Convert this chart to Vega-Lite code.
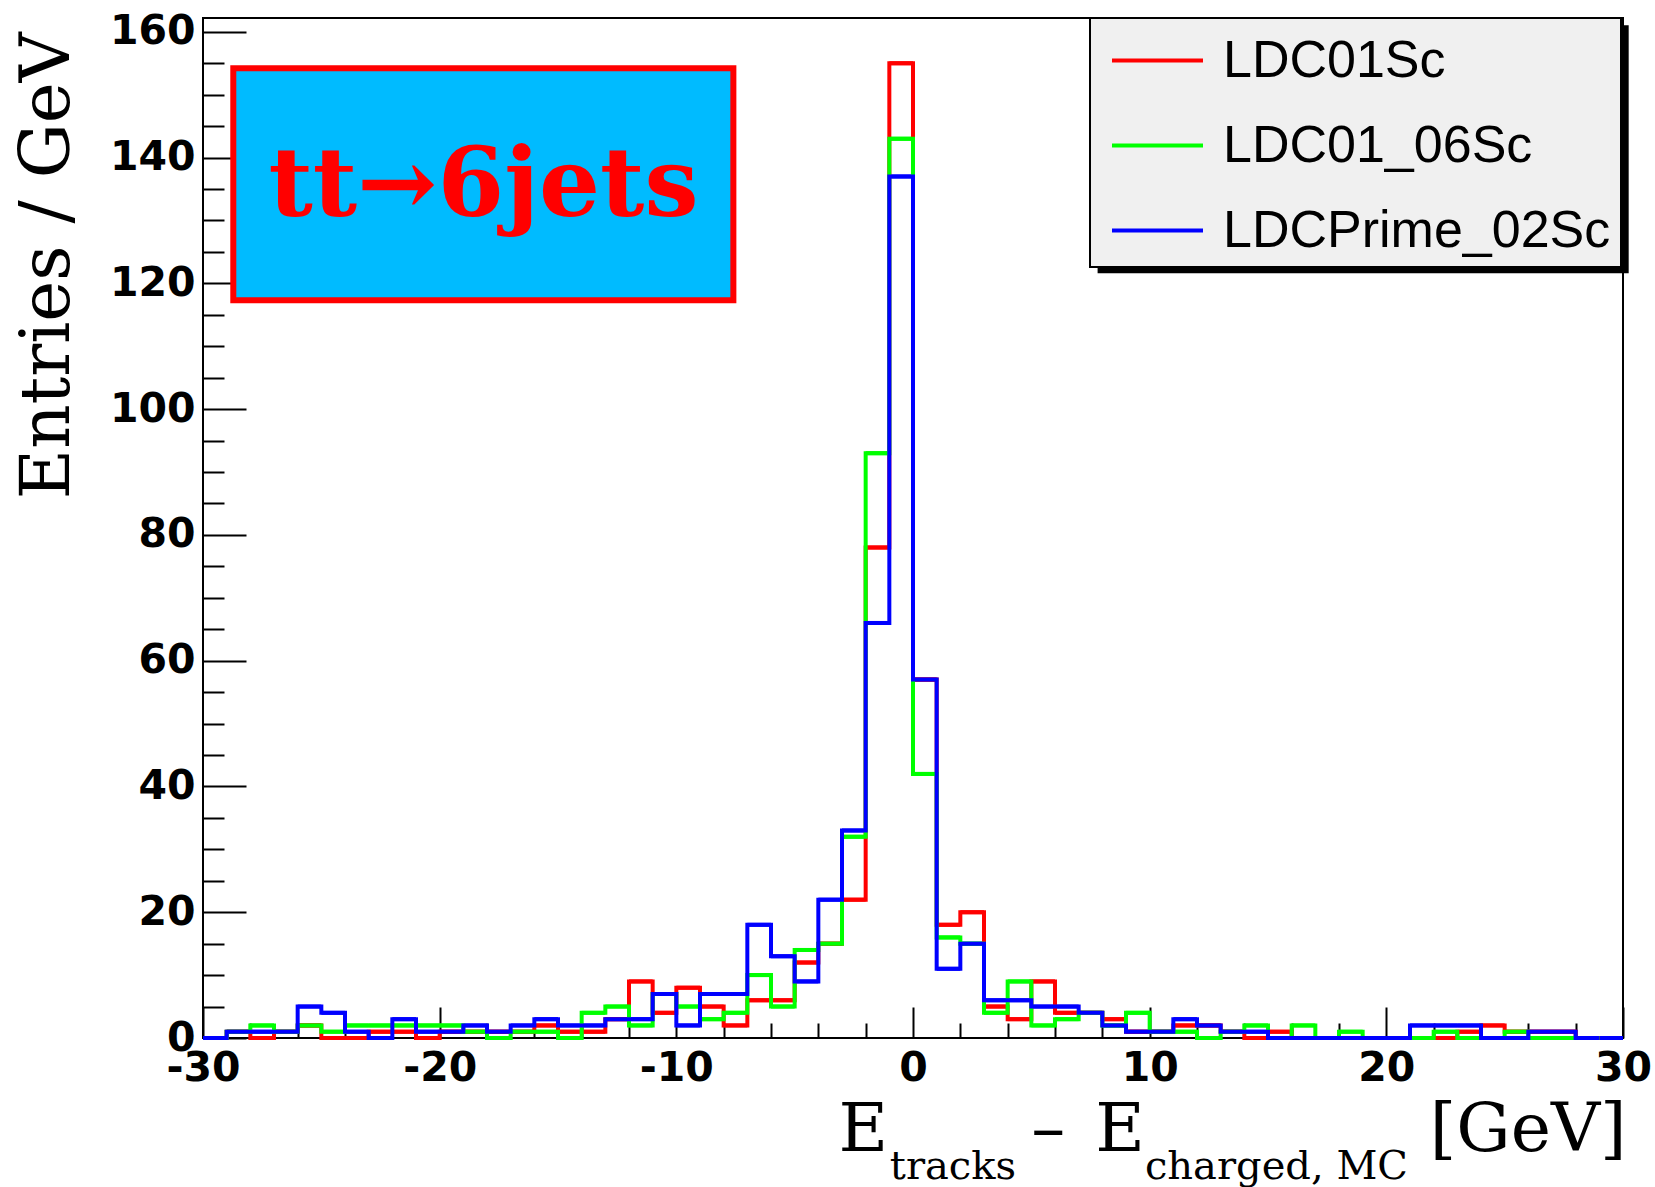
{
"$schema": "https://vega.github.io/schema/vega-lite/v6.json",
"autosize": {"type": "none"},
"width": 1420, "height": 1020,
"padding": {"left": 203, "top": 18, "right": 32, "bottom": 149},
"background": "white",
"config": {"view": {"stroke": "black", "strokeWidth": 2}, "axis": {"grid": false}},
"data": {"values": [
{"s":"LDC01Sc","lo":-30,"hi":-29,"n":0},{"s":"LDC01Sc","lo":-29,"hi":-28,"n":1},{"s":"LDC01Sc","lo":-28,"hi":-27,"n":0},{"s":"LDC01Sc","lo":-27,"hi":-26,"n":1},{"s":"LDC01Sc","lo":-26,"hi":-25,"n":2},{"s":"LDC01Sc","lo":-25,"hi":-24,"n":0},{"s":"LDC01Sc","lo":-24,"hi":-23,"n":0},{"s":"LDC01Sc","lo":-23,"hi":-22,"n":1},{"s":"LDC01Sc","lo":-22,"hi":-21,"n":1},{"s":"LDC01Sc","lo":-21,"hi":-20,"n":0},
{"s":"LDC01Sc","lo":-20,"hi":-19,"n":1},{"s":"LDC01Sc","lo":-19,"hi":-18,"n":1},{"s":"LDC01Sc","lo":-18,"hi":-17,"n":1},{"s":"LDC01Sc","lo":-17,"hi":-16,"n":1},{"s":"LDC01Sc","lo":-16,"hi":-15,"n":2},{"s":"LDC01Sc","lo":-15,"hi":-14,"n":1},{"s":"LDC01Sc","lo":-14,"hi":-13,"n":1},{"s":"LDC01Sc","lo":-13,"hi":-12,"n":3},{"s":"LDC01Sc","lo":-12,"hi":-11,"n":9},{"s":"LDC01Sc","lo":-11,"hi":-10,"n":4},
{"s":"LDC01Sc","lo":-10,"hi":-9,"n":8},{"s":"LDC01Sc","lo":-9,"hi":-8,"n":5},{"s":"LDC01Sc","lo":-8,"hi":-7,"n":2},{"s":"LDC01Sc","lo":-7,"hi":-6,"n":6},{"s":"LDC01Sc","lo":-6,"hi":-5,"n":6},{"s":"LDC01Sc","lo":-5,"hi":-4,"n":12},{"s":"LDC01Sc","lo":-4,"hi":-3,"n":15},{"s":"LDC01Sc","lo":-3,"hi":-2,"n":22},{"s":"LDC01Sc","lo":-2,"hi":-1,"n":78},{"s":"LDC01Sc","lo":-1,"hi":0,"n":155},
{"s":"LDC01Sc","lo":0,"hi":1,"n":57},{"s":"LDC01Sc","lo":1,"hi":2,"n":18},{"s":"LDC01Sc","lo":2,"hi":3,"n":20},{"s":"LDC01Sc","lo":3,"hi":4,"n":5},{"s":"LDC01Sc","lo":4,"hi":5,"n":3},{"s":"LDC01Sc","lo":5,"hi":6,"n":9},{"s":"LDC01Sc","lo":6,"hi":7,"n":4},{"s":"LDC01Sc","lo":7,"hi":8,"n":4},{"s":"LDC01Sc","lo":8,"hi":9,"n":3},{"s":"LDC01Sc","lo":9,"hi":10,"n":1},
{"s":"LDC01Sc","lo":10,"hi":11,"n":1},{"s":"LDC01Sc","lo":11,"hi":12,"n":2},{"s":"LDC01Sc","lo":12,"hi":13,"n":2},{"s":"LDC01Sc","lo":13,"hi":14,"n":1},{"s":"LDC01Sc","lo":14,"hi":15,"n":0},{"s":"LDC01Sc","lo":15,"hi":16,"n":1},{"s":"LDC01Sc","lo":16,"hi":17,"n":0},{"s":"LDC01Sc","lo":17,"hi":18,"n":0},{"s":"LDC01Sc","lo":18,"hi":19,"n":0},{"s":"LDC01Sc","lo":19,"hi":20,"n":0},
{"s":"LDC01Sc","lo":20,"hi":21,"n":0},{"s":"LDC01Sc","lo":21,"hi":22,"n":0},{"s":"LDC01Sc","lo":22,"hi":23,"n":0},{"s":"LDC01Sc","lo":23,"hi":24,"n":1},{"s":"LDC01Sc","lo":24,"hi":25,"n":2},{"s":"LDC01Sc","lo":25,"hi":26,"n":1},{"s":"LDC01Sc","lo":26,"hi":27,"n":1},{"s":"LDC01Sc","lo":27,"hi":28,"n":1},{"s":"LDC01Sc","lo":28,"hi":29,"n":0},{"s":"LDC01Sc","lo":29,"hi":30,"n":0},
{"s":"LDC01_06Sc","lo":-30,"hi":-29,"n":0},{"s":"LDC01_06Sc","lo":-29,"hi":-28,"n":1},{"s":"LDC01_06Sc","lo":-28,"hi":-27,"n":2},{"s":"LDC01_06Sc","lo":-27,"hi":-26,"n":1},{"s":"LDC01_06Sc","lo":-26,"hi":-25,"n":2},{"s":"LDC01_06Sc","lo":-25,"hi":-24,"n":1},{"s":"LDC01_06Sc","lo":-24,"hi":-23,"n":2},{"s":"LDC01_06Sc","lo":-23,"hi":-22,"n":2},{"s":"LDC01_06Sc","lo":-22,"hi":-21,"n":2},{"s":"LDC01_06Sc","lo":-21,"hi":-20,"n":2},
{"s":"LDC01_06Sc","lo":-20,"hi":-19,"n":2},{"s":"LDC01_06Sc","lo":-19,"hi":-18,"n":1},{"s":"LDC01_06Sc","lo":-18,"hi":-17,"n":0},{"s":"LDC01_06Sc","lo":-17,"hi":-16,"n":1},{"s":"LDC01_06Sc","lo":-16,"hi":-15,"n":1},{"s":"LDC01_06Sc","lo":-15,"hi":-14,"n":0},{"s":"LDC01_06Sc","lo":-14,"hi":-13,"n":4},{"s":"LDC01_06Sc","lo":-13,"hi":-12,"n":5},{"s":"LDC01_06Sc","lo":-12,"hi":-11,"n":2},{"s":"LDC01_06Sc","lo":-11,"hi":-10,"n":7},
{"s":"LDC01_06Sc","lo":-10,"hi":-9,"n":5},{"s":"LDC01_06Sc","lo":-9,"hi":-8,"n":3},{"s":"LDC01_06Sc","lo":-8,"hi":-7,"n":4},{"s":"LDC01_06Sc","lo":-7,"hi":-6,"n":10},{"s":"LDC01_06Sc","lo":-6,"hi":-5,"n":5},{"s":"LDC01_06Sc","lo":-5,"hi":-4,"n":14},{"s":"LDC01_06Sc","lo":-4,"hi":-3,"n":15},{"s":"LDC01_06Sc","lo":-3,"hi":-2,"n":32},{"s":"LDC01_06Sc","lo":-2,"hi":-1,"n":93},{"s":"LDC01_06Sc","lo":-1,"hi":0,"n":143},
{"s":"LDC01_06Sc","lo":0,"hi":1,"n":42},{"s":"LDC01_06Sc","lo":1,"hi":2,"n":16},{"s":"LDC01_06Sc","lo":2,"hi":3,"n":15},{"s":"LDC01_06Sc","lo":3,"hi":4,"n":4},{"s":"LDC01_06Sc","lo":4,"hi":5,"n":9},{"s":"LDC01_06Sc","lo":5,"hi":6,"n":2},{"s":"LDC01_06Sc","lo":6,"hi":7,"n":3},{"s":"LDC01_06Sc","lo":7,"hi":8,"n":4},{"s":"LDC01_06Sc","lo":8,"hi":9,"n":2},{"s":"LDC01_06Sc","lo":9,"hi":10,"n":4},
{"s":"LDC01_06Sc","lo":10,"hi":11,"n":1},{"s":"LDC01_06Sc","lo":11,"hi":12,"n":1},{"s":"LDC01_06Sc","lo":12,"hi":13,"n":0},{"s":"LDC01_06Sc","lo":13,"hi":14,"n":1},{"s":"LDC01_06Sc","lo":14,"hi":15,"n":2},{"s":"LDC01_06Sc","lo":15,"hi":16,"n":0},{"s":"LDC01_06Sc","lo":16,"hi":17,"n":2},{"s":"LDC01_06Sc","lo":17,"hi":18,"n":0},{"s":"LDC01_06Sc","lo":18,"hi":19,"n":1},{"s":"LDC01_06Sc","lo":19,"hi":20,"n":0},
{"s":"LDC01_06Sc","lo":20,"hi":21,"n":0},{"s":"LDC01_06Sc","lo":21,"hi":22,"n":0},{"s":"LDC01_06Sc","lo":22,"hi":23,"n":1},{"s":"LDC01_06Sc","lo":23,"hi":24,"n":0},{"s":"LDC01_06Sc","lo":24,"hi":25,"n":0},{"s":"LDC01_06Sc","lo":25,"hi":26,"n":1},{"s":"LDC01_06Sc","lo":26,"hi":27,"n":0},{"s":"LDC01_06Sc","lo":27,"hi":28,"n":0},{"s":"LDC01_06Sc","lo":28,"hi":29,"n":0},{"s":"LDC01_06Sc","lo":29,"hi":30,"n":0},
{"s":"LDCPrime_02Sc","lo":-30,"hi":-29,"n":0},{"s":"LDCPrime_02Sc","lo":-29,"hi":-28,"n":1},{"s":"LDCPrime_02Sc","lo":-28,"hi":-27,"n":1},{"s":"LDCPrime_02Sc","lo":-27,"hi":-26,"n":1},{"s":"LDCPrime_02Sc","lo":-26,"hi":-25,"n":5},{"s":"LDCPrime_02Sc","lo":-25,"hi":-24,"n":4},{"s":"LDCPrime_02Sc","lo":-24,"hi":-23,"n":1},{"s":"LDCPrime_02Sc","lo":-23,"hi":-22,"n":0},{"s":"LDCPrime_02Sc","lo":-22,"hi":-21,"n":3},{"s":"LDCPrime_02Sc","lo":-21,"hi":-20,"n":1},
{"s":"LDCPrime_02Sc","lo":-20,"hi":-19,"n":1},{"s":"LDCPrime_02Sc","lo":-19,"hi":-18,"n":2},{"s":"LDCPrime_02Sc","lo":-18,"hi":-17,"n":1},{"s":"LDCPrime_02Sc","lo":-17,"hi":-16,"n":2},{"s":"LDCPrime_02Sc","lo":-16,"hi":-15,"n":3},{"s":"LDCPrime_02Sc","lo":-15,"hi":-14,"n":2},{"s":"LDCPrime_02Sc","lo":-14,"hi":-13,"n":2},{"s":"LDCPrime_02Sc","lo":-13,"hi":-12,"n":3},{"s":"LDCPrime_02Sc","lo":-12,"hi":-11,"n":3},{"s":"LDCPrime_02Sc","lo":-11,"hi":-10,"n":7},
{"s":"LDCPrime_02Sc","lo":-10,"hi":-9,"n":2},{"s":"LDCPrime_02Sc","lo":-9,"hi":-8,"n":7},{"s":"LDCPrime_02Sc","lo":-8,"hi":-7,"n":7},{"s":"LDCPrime_02Sc","lo":-7,"hi":-6,"n":18},{"s":"LDCPrime_02Sc","lo":-6,"hi":-5,"n":13},{"s":"LDCPrime_02Sc","lo":-5,"hi":-4,"n":9},{"s":"LDCPrime_02Sc","lo":-4,"hi":-3,"n":22},{"s":"LDCPrime_02Sc","lo":-3,"hi":-2,"n":33},{"s":"LDCPrime_02Sc","lo":-2,"hi":-1,"n":66},{"s":"LDCPrime_02Sc","lo":-1,"hi":0,"n":137},
{"s":"LDCPrime_02Sc","lo":0,"hi":1,"n":57},{"s":"LDCPrime_02Sc","lo":1,"hi":2,"n":11},{"s":"LDCPrime_02Sc","lo":2,"hi":3,"n":15},{"s":"LDCPrime_02Sc","lo":3,"hi":4,"n":6},{"s":"LDCPrime_02Sc","lo":4,"hi":5,"n":6},{"s":"LDCPrime_02Sc","lo":5,"hi":6,"n":5},{"s":"LDCPrime_02Sc","lo":6,"hi":7,"n":5},{"s":"LDCPrime_02Sc","lo":7,"hi":8,"n":4},{"s":"LDCPrime_02Sc","lo":8,"hi":9,"n":2},{"s":"LDCPrime_02Sc","lo":9,"hi":10,"n":1},
{"s":"LDCPrime_02Sc","lo":10,"hi":11,"n":1},{"s":"LDCPrime_02Sc","lo":11,"hi":12,"n":3},{"s":"LDCPrime_02Sc","lo":12,"hi":13,"n":2},{"s":"LDCPrime_02Sc","lo":13,"hi":14,"n":1},{"s":"LDCPrime_02Sc","lo":14,"hi":15,"n":1},{"s":"LDCPrime_02Sc","lo":15,"hi":16,"n":0},{"s":"LDCPrime_02Sc","lo":16,"hi":17,"n":0},{"s":"LDCPrime_02Sc","lo":17,"hi":18,"n":0},{"s":"LDCPrime_02Sc","lo":18,"hi":19,"n":0},{"s":"LDCPrime_02Sc","lo":19,"hi":20,"n":0},
{"s":"LDCPrime_02Sc","lo":20,"hi":21,"n":0},{"s":"LDCPrime_02Sc","lo":21,"hi":22,"n":2},{"s":"LDCPrime_02Sc","lo":22,"hi":23,"n":2},{"s":"LDCPrime_02Sc","lo":23,"hi":24,"n":2},{"s":"LDCPrime_02Sc","lo":24,"hi":25,"n":0},{"s":"LDCPrime_02Sc","lo":25,"hi":26,"n":0},{"s":"LDCPrime_02Sc","lo":26,"hi":27,"n":1},{"s":"LDCPrime_02Sc","lo":27,"hi":28,"n":1},{"s":"LDCPrime_02Sc","lo":28,"hi":29,"n":0},{"s":"LDCPrime_02Sc","lo":29,"hi":30,"n":0}
]},
"layer": [
{
"mark": {"type": "rule", "strokeWidth": 4},
"encoding": {
"x": {"field": "lo", "type": "quantitative", "scale": {"domain": [-30, 30], "nice": false, "zero": false},
  "axis": {"orient": "bottom", "values": [-30,-20,-10,0,10,20,30], "tickSize": -31, "tickWidth": 2, "tickColor": "black", "domain": false, "labelFont": "DejaVu Sans", "labelFontWeight": "bold", "labelFontSize": 41, "labelColor": "black", "labelPadding": 41, "labelFlush": false, "labelOverlap": false, "labelExpr": "'' + datum.value", "title": null}},
"x2": {"field": "hi"},
"y": {"field": "n", "type": "quantitative", "scale": {"domain": [0, 162.2], "nice": false, "zero": false},
  "axis": {"orient": "left", "values": [0,20,40,60,80,100,120,140,160], "tickSize": -43, "tickWidth": 2, "tickColor": "black", "domain": false, "labelFont": "DejaVu Sans", "labelFontWeight": "bold", "labelFontSize": 41, "labelColor": "black", "labelPadding": 51, "labelOverlap": false, "title": "Entries / GeV", "titleFont": "DejaVu Serif", "titleFontWeight": "normal", "titleFontSize": 69, "titleColor": "black", "titleAngle": -90, "titleAlign": "right", "titleBaseline": "alphabetic", "titleX": -135, "titleY": 14}},
"color": {"field": "s", "type": "nominal", "scale": {"domain": ["LDC01Sc", "LDC01_06Sc", "LDCPrime_02Sc"], "range": ["#ff0000", "#00ff00", "#0000ff"]},
  "legend": {"title": null, "orient": "none", "legendX": 887, "legendY": 0, "symbolType": "M-1.5,0H1.5", "symbolSize": 3680, "symbolStrokeWidth": 4, "symbolOffset": 25, "labelFont": "Liberation Sans", "labelFontSize": 52, "labelColor": "black", "labelOffset": 33, "labelLimit": 800, "padding": 10, "rowPadding": 26, "fillColor": "#f0f0f0", "strokeColor": "black",
   "encode": {"legend": {"update": {"strokeWidth": {"value": 2}}}}}}
}
},
{
"mark": {"type": "line", "interpolate": "step-after", "strokeWidth": 4, "strokeJoin": "miter"},
"encoding": {
"x": {"field": "lo", "type": "quantitative", "axis": null},
"y": {"field": "n", "type": "quantitative", "axis": null},
"color": {"field": "s", "type": "nominal"}
}
},
{
"mark": {"type": "point", "opacity": 0},
"encoding": {
"x": {"field": "lo", "type": "quantitative", "axis": {"orient": "bottom", "values": [-28,-26,-24,-22,-18,-16,-14,-12,-8,-6,-4,-2,2,4,6,8,12,14,16,18,22,24,26,28], "tickSize": -15, "tickWidth": 2, "tickColor": "black", "domain": false, "labels": false, "title": null}},
"y": {"field": "n", "type": "quantitative", "axis": {"orient": "left", "values": [5,10,15,25,30,35,45,50,55,65,70,75,85,90,95,105,110,115,125,130,135,145,150,155], "tickSize": -21, "tickWidth": 2, "tickColor": "black", "domain": false, "labels": false, "title": null}}
}
},
{
"data": {"values": [{}]},
"mark": {"type": "rect", "fill": "black"},
"encoding": {"x": {"datum": 7.8, "type": "quantitative", "axis": null}, "x2": {"datum": 30.24}, "y": {"datum": 161.06, "type": "quantitative", "axis": null}, "y2": {"datum": 121.6}}
},
{
"data": {"values": [{}]},
"mark": {"type": "rect", "fill": "#00bbff", "stroke": "#ff0000", "strokeWidth": 6},
"encoding": {"x": {"datum": -28.72, "type": "quantitative", "axis": null}, "x2": {"datum": -7.59}, "y": {"datum": 154.2, "type": "quantitative", "axis": null}, "y2": {"datum": 117.3}}
},
{
"data": {"values": [{"label": "tt→6jets"}]},
"mark": {"type": "text", "font": "DejaVu Serif", "fontWeight": "bold", "fontSize": 96, "color": "#ff0000", "align": "center", "baseline": "alphabetic"},
"encoding": {"text": {"field": "label"}, "x": {"datum": -18.15, "type": "quantitative", "axis": null}, "y": {"datum": 130.7, "type": "quantitative", "axis": null}}
},
{
"data": {"values": [{"label": "E"}]},
"mark": {"type": "text", "font": "DejaVu Serif", "fontSize": 68, "color": "black", "align": "left", "baseline": "alphabetic"},
"encoding": {"text": {"field": "label"}, "x": {"datum": -3.15, "type": "quantitative", "axis": null}, "y": {"datum": -17.96, "type": "quantitative", "axis": null}}
},
{
"data": {"values": [{"label": "tracks"}]},
"mark": {"type": "text", "font": "DejaVu Serif", "fontSize": 40, "color": "black", "align": "left", "baseline": "alphabetic"},
"encoding": {"text": {"field": "label"}, "x": {"datum": -0.98, "type": "quantitative", "axis": null}, "y": {"datum": -22.5, "type": "quantitative", "axis": null}}
},
{
"data": {"values": [{"label": "–"}]},
"mark": {"type": "text", "font": "DejaVu Serif", "fontSize": 68, "color": "black", "align": "left", "baseline": "alphabetic"},
"encoding": {"text": {"field": "label"}, "x": {"datum": 5.0, "type": "quantitative", "axis": null}, "y": {"datum": -17.96, "type": "quantitative", "axis": null}}
},
{
"data": {"values": [{"label": "E"}]},
"mark": {"type": "text", "font": "DejaVu Serif", "fontSize": 68, "color": "black", "align": "left", "baseline": "alphabetic"},
"encoding": {"text": {"field": "label"}, "x": {"datum": 7.7, "type": "quantitative", "axis": null}, "y": {"datum": -17.96, "type": "quantitative", "axis": null}}
},
{
"data": {"values": [{"label": "charged, MC"}]},
"mark": {"type": "text", "font": "DejaVu Serif", "fontSize": 40, "color": "black", "align": "left", "baseline": "alphabetic"},
"encoding": {"text": {"field": "label"}, "x": {"datum": 9.8, "type": "quantitative", "axis": null}, "y": {"datum": -22.5, "type": "quantitative", "axis": null}}
},
{
"data": {"values": [{"label": "[GeV]"}]},
"mark": {"type": "text", "font": "DejaVu Serif", "fontSize": 68, "color": "black", "align": "right", "baseline": "alphabetic"},
"encoding": {"text": {"field": "label"}, "x": {"datum": 30.15, "type": "quantitative", "axis": null}, "y": {"datum": -17.96, "type": "quantitative", "axis": null}}
}
],
"resolve": {"axis": {"x": "independent", "y": "independent"}}
}
